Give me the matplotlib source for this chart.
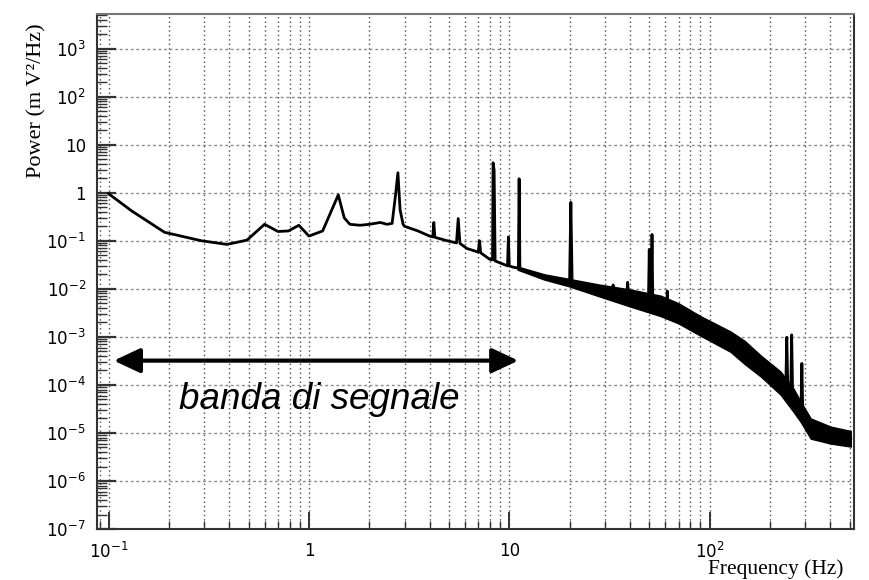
import matplotlib
matplotlib.use("Agg")
import matplotlib.pyplot as plt
from matplotlib.ticker import LogLocator, NullFormatter
from matplotlib.patches import FancyArrowPatch

# Power spectral density: smooth low-frequency part with resonances and lines
freq = [0.1, 0.13, 0.19, 0.29, 0.39, 0.49, 0.6, 0.7, 0.79, 0.89, 1.0, 1.17,
        1.3, 1.4, 1.5, 1.6, 1.8, 2.0, 2.27, 2.45, 2.6, 2.7, 2.78, 2.85, 2.95,
        3.0, 3.5, 4.0, 4.15, 4.2, 4.25, 4.9, 5.45, 5.56, 5.67, 6.15, 7.0, 7.1,
        7.2, 8.0, 8.25, 8.3, 8.4, 8.5, 9.8, 9.9, 10.0, 10.5, 11.1, 11.2, 11.3,
        15.4, 20.0, 20.3, 20.6, 26.0, 32.5, 33.0, 33.5, 38.5, 39.0, 39.5,
        49.5, 50.0, 50.5, 51.1, 51.6, 52.1, 61.0, 61.5, 62.0, 70, 90, 127,
        150, 180, 226, 240, 243, 246, 254, 257, 260, 286, 289, 292, 320, 403,
        507]
power = [0.95, 0.42, 0.15, 0.10, 0.084, 0.103, 0.22, 0.156, 0.16, 0.21, 0.125,
         0.16, 0.44, 0.9, 0.3, 0.22, 0.21, 0.22, 0.24, 0.22, 0.23, 0.84, 2.6,
         0.44, 0.22, 0.2, 0.16, 0.125, 0.12, 0.24, 0.118, 0.1, 0.09, 0.29,
         0.088, 0.069, 0.058, 0.1, 0.056, 0.041, 0.04, 4.2, 3.0, 0.038, 0.03,
         0.12, 0.03, 0.028, 0.027, 1.95, 0.026, 0.0174, 0.0137, 0.63, 0.0135,
         0.0095, 0.0075, 0.012, 0.0074, 0.0062, 0.0137, 0.0061, 0.0048, 0.066,
         0.0047, 0.0046, 0.135, 0.0046, 0.0038, 0.009, 0.0037, 0.0031, 0.0016,
         8e-4, 5e-4, 2.5e-4, 1.1e-4, 8e-5, 9.8e-4, 7.5e-5, 6e-5, 1.1e-3,
         5.5e-5, 2.9e-5, 2.8e-4, 2.6e-5, 1.2e-5, 9e-6, 7.5e-6]

# Spread of the noisy high-frequency part
band_freq = [11, 15, 20, 28, 40, 57, 70, 90, 127, 150, 180, 226, 260, 285,
             320, 403, 507]
band_low = [0.025, 0.0155, 0.0112, 0.0070, 0.0043, 0.0027, 0.0019, 0.00106,
            4.9e-4, 2.7e-4, 1.5e-4, 6.3e-5, 2.9e-5, 1.7e-5, 7.6e-6, 6e-6,
            5.2e-6]
band_high = [0.029, 0.02, 0.016, 0.0123, 0.0097, 0.0072, 0.0050, 0.0027,
             1.3e-3, 8.2e-4, 4.1e-4, 1.9e-4, 9e-5, 4.5e-5, 2e-5, 1.35e-5,
             1.1e-5]

y_ticks = [1e-7, 1e-6, 1e-5, 1e-4, 1e-3, 1e-2, 1e-1, 1, 10, 1e2, 1e3]
y_tick_labels = [r"$10^{-7}$", r"$10^{-6}$", r"$10^{-5}$", r"$10^{-4}$",
                 r"$10^{-3}$", r"$10^{-2}$", r"$10^{-1}$", "1", "10",
                 r"$10^{2}$", r"$10^{3}$"]
x_ticks = [0.1, 1, 10, 100]
x_tick_labels = [r"$10^{-1}$", "1", "10", r"$10^{2}$"]

plt.rcParams["mathtext.fontset"] = "dejavusans"

fig = plt.figure(figsize=(8.69, 5.80), dpi=100)
ax = fig.add_axes([0.1116, 0.0879, 0.8711, 0.888])

ax.set_xscale("log")
ax.set_yscale("log")
ax.set_xlim(0.0874, 526)
ax.set_ylim(1e-7, 5250)

# grid: vertical lines at every decade subdivision, horizontal at decades
ax.xaxis.set_minor_locator(LogLocator(base=10, subs=range(2, 10), numticks=50))
ax.yaxis.set_minor_locator(LogLocator(base=10, subs=range(2, 10), numticks=50))
ax.xaxis.set_minor_formatter(NullFormatter())
ax.yaxis.set_minor_formatter(NullFormatter())
ax.grid(True, axis="x", which="both", linestyle=(0, (1, 2.2)),
        color="#4a4a4a", linewidth=1.0)
ax.grid(True, axis="y", which="major", linestyle=(0, (2, 2)),
        color="#8a8a8a", linewidth=1.0)
ax.set_axisbelow(True)

ax.fill_between(band_freq, band_low, band_high, color="black", linewidth=1.0,
                edgecolor="black", zorder=3)
ax.plot(freq, power, color="black", linewidth=2.0, zorder=4)

ax.set_yticks(y_ticks)
ax.set_yticklabels(y_tick_labels)
ax.set_xticks(x_ticks)
ax.set_xticklabels(x_tick_labels)

ax.tick_params(axis="y", which="major", direction="in", length=14, width=1.6,
               pad=8, labelsize=12, color="#333333")
ax.tick_params(axis="y", which="minor", direction="in", length=7, width=1.0,
               color="#333333")
ax.tick_params(axis="x", which="major", direction="in", length=12, width=1.4,
               pad=9, labelsize=12, color="#333333")
ax.tick_params(axis="x", which="minor", direction="in", length=6, width=1.0,
               color="#333333")
for side in ("left", "bottom", "right", "top"):
    ax.spines[side].set_linewidth(1.5)
    ax.spines[side].set_color("#333333")
ax.spines["top"].set_color("#777777")

fig.text(37 / 869, 1 - 101 / 580, "Power (m V\u00b2/Hz)", rotation=90,
         ha="center", va="center", family="Liberation Serif", fontsize=16)
fig.text(776 / 869, 1 - 569 / 580, "Frequency (Hz)", ha="center",
         va="center", family="Liberation Serif", fontsize=15.5)

# signal band marker
arrow = FancyArrowPatch((11.1, 3.2e-4), (0.106, 3.2e-4),
                        arrowstyle="<|-|>,head_length=16,head_width=7.5",
                        mutation_scale=1, linewidth=3, color="black",
                        shrinkA=0, shrinkB=0, zorder=6)
ax.add_patch(arrow)
ax.text(1.12, 3.1e-5, "banda di segnale", ha="center", va="baseline",
        family="Liberation Sans", style="italic", fontsize=26.5,
        zorder=6)

fig.savefig("out.png", dpi=100)
